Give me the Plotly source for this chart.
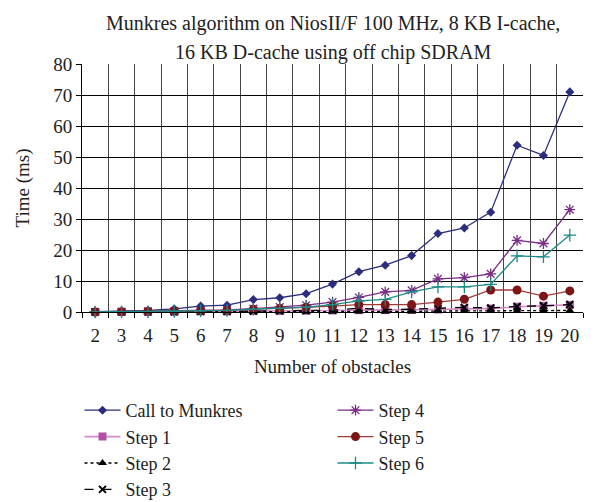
import plotly.graph_objects as go

obstacles = [str(v) for v in range(2, 21)]
call_munkres = [0.1, 0.3, 0.5, 1.0, 1.9, 2.2, 4.0, 4.6, 5.9, 9.0, 13.0, 15.1, 18.2, 25.3, 27.1, 32.2, 53.8, 50.5, 71.0]
step1 = [0.0, 0.0, 0.1, 0.1, 0.2, 0.2, 0.3, 0.3, 0.4, 0.5, 0.6, 0.6, 0.7, 0.8, 1.0, 1.1, 1.7, 2.0, 2.3]
step2 = [0.0, 0.0, 0.0, 0.0, 0.0, 0.1, 0.1, 0.1, 0.1, 0.2, 0.2, 0.2, 0.2, 0.3, 0.3, 0.3, 0.4, 0.4, 0.5]
step3 = [0.0, 0.0, 0.1, 0.1, 0.2, 0.2, 0.3, 0.4, 0.5, 0.6, 1.2, 0.8, 0.9, 1.1, 1.5, 1.3, 1.8, 2.0, 2.4]
step4 = [0.0, 0.1, 0.2, 0.3, 0.5, 0.7, 1.1, 1.6, 2.2, 3.2, 4.7, 6.5, 7.0, 10.7, 11.1, 12.3, 23.1, 22.1, 33.0]
step5 = [0.0, 0.1, 0.2, 0.3, 0.4, 0.5, 0.9, 1.1, 1.5, 1.9, 2.4, 2.4, 2.4, 3.2, 4.1, 7.1, 7.1, 5.1, 6.8]
step6 = [0.0, 0.1, 0.1, 0.2, 0.4, 0.5, 0.9, 1.2, 1.6, 2.4, 3.6, 4.1, 6.5, 8.1, 8.1, 8.9, 18.1, 17.8, 24.8]
y_ticks = [0, 10, 20, 30, 40, 50, 60, 70, 80]

FONT = "Liberation Serif"
FS = 19
OFF = 8  # browser default body margin
W, H = 613 - OFF, 502 - OFF
ML, MT = 82 - OFF, 64 - OFF
MR = W - ML - 501
MB = H - MT - 248
fig = go.Figure()

def add(name, y, color, symbol, size, dash="solid", lcolor=None, legend="legend", mlw=0, lw=1.3):
    fig.add_trace(go.Scatter(
        x=obstacles, y=y, name=name, mode="lines+markers", cliponaxis=False,
        line=dict(color=lcolor or color, width=lw, dash=dash),
        marker=dict(color=color, symbol=symbol, size=size,
                    line=dict(color=color, width=mlw)),
        legend=legend,
    ))

add("Call to Munkres", call_munkres, "#2b2e7f", "diamond", 7)
add("Step 1", step1, "#b34fa3", "square", 8, lcolor="#d68ac8", lw=1.6)
add("Step 2", step2, "#000000", "triangle-up", 8, dash="dot")
add("Step 3", step3, "#000000", "x-thin", 7, dash="dash", mlw=2)
add("Step 4", step4, "#7a2d86", "asterisk", 9, legend="legend2", mlw=1.3)
add("Step 5", step5, "#7d1416", "circle", 9, lcolor="#a33a3a", legend="legend2")
add("Step 6", step6, "#1c8a87", "cross-thin", 9, legend="legend2", mlw=1.3)

def cy(px):
    return 1 - (px - OFF) / H

def py(px):
    return (502 - OFF - MB - px) / (H - MT - MB)

legfont = dict(family=FONT, size=18, color="#222")
fig.update_layout(
    width=W, height=H,
    margin=dict(l=ML, r=MR, t=MT, b=MB, autoexpand=False),
    paper_bgcolor="white", plot_bgcolor="white",
    font=dict(family=FONT, size=FS, color="#222"),
    showlegend=True,
    legend=dict(x=-0.005, y=cy(392), xanchor="left", yanchor="top", yref="container",
                font=legfont, bgcolor="rgba(0,0,0,0)", itemwidth=36),
    legend2=dict(x=0.5, y=cy(392), xanchor="left", yanchor="top", yref="container",
                 font=legfont, bgcolor="rgba(0,0,0,0)", itemwidth=36),
    annotations=[
        dict(text="Munkres algorithm on NiosII/F 100 MHz, 8 KB I-cache,", x=0.5, y=py(15),
             xref="paper", yref="paper", yanchor="middle", showarrow=False, font=dict(size=20)),
        dict(text="16 KB D-cache using off chip SDRAM", x=0.5, y=py(44),
             xref="paper", yref="paper", yanchor="middle", showarrow=False, font=dict(size=20)),
    ],
)

fig.update_xaxes(
    type="category", range=[-0.5, 18.5], tickson="boundaries", tickangle=0,
    ticks="outside", ticklen=5, tickcolor="black", automargin=False, ticklabelstandoff=6,
    showgrid=True, gridcolor="#444", gridwidth=1,
    showline=True, linecolor="black", linewidth=1,
    title=dict(text="Number of obstacles", font=dict(size=FS), standoff=14),
    tickfont=dict(size=FS),
)
fig.update_yaxes(
    range=[0, 80], tickvals=y_ticks, ticks="outside", ticklen=5, tickcolor="black",
    showgrid=True, gridcolor="black", gridwidth=1, zeroline=False, automargin=False,
    showline=True, linecolor="black", linewidth=1,
    title=dict(text="Time (ms)", font=dict(size=FS), standoff=18),
    tickfont=dict(size=FS),
)

fig.write_html("out.html")
